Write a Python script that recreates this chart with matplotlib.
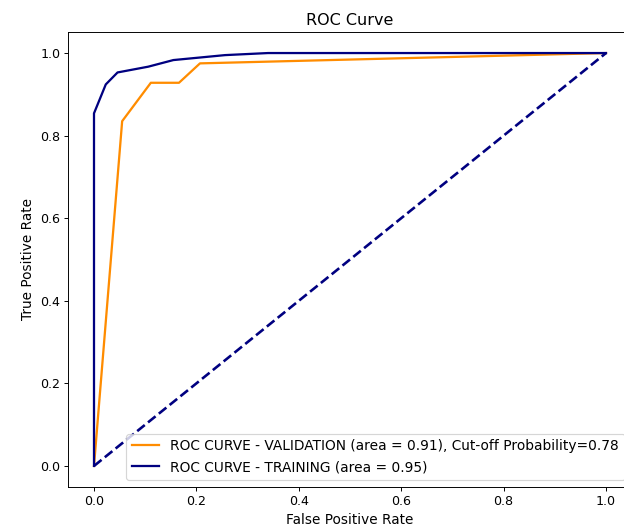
import matplotlib
matplotlib.use("Agg")
import matplotlib.pyplot as plt

# ROC curve points (false positive rate, true positive rate)
train_fpr = [0.0, 0.0, 0.023, 0.046, 0.106, 0.155, 0.256, 0.34, 1.0]
train_tpr = [0.0, 0.854, 0.924, 0.953, 0.967, 0.983, 0.995, 1.0, 1.0]

val_fpr = [0.0, 0.055, 0.111, 0.166, 0.207, 1.0]
val_tpr = [0.0, 0.835, 0.928, 0.928, 0.975, 1.0]

train_auc = 0.95
val_auc = 0.91
cutoff = 0.78

DPI = 85.7
fig = plt.figure(figsize=(624 / DPI, 529 / DPI), dpi=DPI)
ax = fig.add_axes([68.4 / 624, 42.4 / 529, 563.2 / 624, 454.2 / 529])

ax.plot(val_fpr, val_tpr, color="darkorange", lw=1.9,
        label=f"ROC CURVE - VALIDATION (area = {val_auc:.2f}), Cut-off Probability={cutoff}")
ax.plot(train_fpr, train_tpr, color="navy", lw=1.9,
        label=f"ROC CURVE - TRAINING (area = {train_auc:.2f})")
ax.plot([0, 1], [0, 1], color="navy", lw=2.2, linestyle="--")

ax.set_title("ROC Curve", fontsize=13.5)
ax.set_xlabel("False Positive Rate", fontsize=11.5)
ax.set_ylabel("True Positive Rate", fontsize=11.5)
ax.tick_params(labelsize=10.6)
ax.legend(loc="lower right", fontsize=11.6)

fig.savefig("out.png", dpi=DPI)
